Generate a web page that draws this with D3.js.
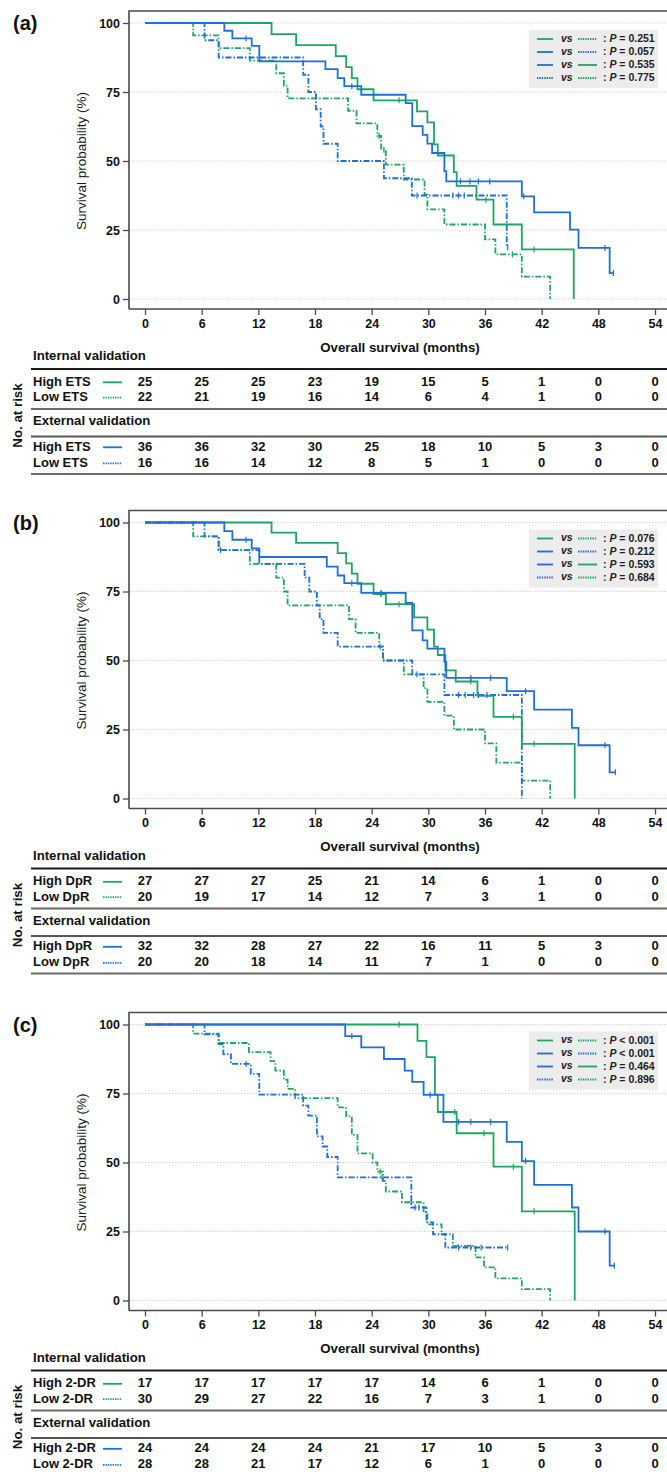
<!DOCTYPE html>
<html>
<head>
<meta charset="utf-8">
<script src="https://cdn.jsdelivr.net/npm/d3@7.9.0/dist/d3.min.js"></script>
<style>
  body { margin: 0; background: #fff; }
  svg { display: block; font-family: "Liberation Sans", Arial, sans-serif; }
</style>
</head>
<body>
<svg id="chart" width="667" height="1472"></svg>
<script>
// === Shared ticks / labels ===
const months = [0, 6, 12, 18, 24, 30, 36, 42, 48, 54];
const yTicks = [0, 25, 50, 75, 100];
const panelLetters = ['(a)', '(b)', '(c)'];
const groupNames = ['ETS', 'DpR', '2-DR'];

// === Panel (a) curves: [month, survival %] ===
const aIntHigh = [[0,100],[13.4,96],[16.0,92],[20.2,88],[21.3,84],[21.9,80],[22.5,76],[24.2,72],[28.8,68],[29.9,64],[30.6,56],[31.0,52],[32.7,46],[33.0,41],[35.1,36],[36.9,27],[39.9,18],[45.4,0]];
const aIntHighCens = [26.9, 36.1, 41.2];
const aIntLow = [[0,100],[5.1,95.5],[7.8,90.9],[11.1,86.4],[13.9,81.8],[14.7,77.3],[15.1,72.7],[21.5,68.2],[22.4,63.6],[24.6,59.1],[25.0,54.1],[25.5,48.7],[27.4,43.3],[29.6,37.8],[29.9,32.5],[31.7,27.0],[36.0,21.6],[37.1,16.2],[39.9,8.1],[42.9,0]];
const aIntLowCens = [24.8, 25.3, 38.9];
const aExtHigh = [[0,100],[8.4,97.2],[9.25,94.4],[11.3,91.7],[12.1,86.1],[19.1,83.3],[20.4,80.0],[21.1,77.1],[22.9,74.0],[27.6,71.0],[28.3,62.6],[29.4,59.5],[29.9,56.3],[30.4,52.9],[31.7,46.3],[31.9,42.6],[39.9,37.2],[41.2,31.4],[45.0,25.1],[45.9,18.5],[49.2,9.4],[49.6,9.4]];
const aExtHighCens = [10.7, 21.9, 33.4, 34.4, 35.3, 36.5, 40.1, 48.7, 49.6];
const aExtLow = [[0,100],[6.3,93.75],[7.8,87.5],[16.75,81.25],[17.3,75],[18.1,68.75],[18.6,62.5],[18.9,56.25],[20.4,50],[25.3,43.75],[28.25,37.5],[38.3,18.75],[38.4,18.75]];
const aExtLowCens = [28.8, 32.6, 33.2, 33.8, 38.4];
const aP = ['= 0.251', '= 0.057', '= 0.535', '= 0.775'];

// === Panel (b) curves ===
const bIntHigh = [[0,100],[13.4,96.3],[16.0,92.6],[20.4,88.9],[21.3,85.2],[21.9,81.5],[22.5,77.8],[24.2,74.1],[25.5,70.4],[28.5,65.6],[29.9,61.2],[30.6,55.0],[31.0,52.0],[31.8,46.4],[32.9,42.4],[35.2,37.2],[36.9,29.6],[39.9,19.8],[45.5,0]];
const bIntHighCens = [25.0, 26.9, 34.5, 39.0, 41.2];
const bIntLow = [[0,100],[5.1,95],[7.8,90],[11.1,85],[13.9,80],[14.7,75],[15.1,70],[21.6,65],[22.3,60],[24.8,55],[25.2,50],[27.4,45],[29.5,40],[29.9,35],[31.7,30],[32.7,25],[36.0,20],[37.2,13],[39.9,6.5],[42.9,0]];
const bIntLowCens = [24.9];
const bExtHigh = [[0,100],[8.4,96.9],[9.25,93.75],[11.3,90.6],[12.1,87.5],[19.25,84.0],[20.4,80.8],[21.1,78.0],[22.9,74.5],[27.6,70.9],[28.3,60.9],[29.4,57.3],[29.9,54.3],[31.7,49.5],[31.9,43.7],[38.3,38.9],[41.2,32.2],[45.2,25.6],[45.9,19.3],[49.2,9.5],[49.8,9.5]];
const bExtHighCens = [10.7, 21.9, 25.0, 34.5, 36.6, 40.3, 48.7, 49.8];
const bExtLow = [[0,100],[6.3,95],[7.8,90],[12.1,85],[16.9,80],[17.4,75],[18.2,70],[18.5,65],[18.9,60],[20.4,55],[25.2,50],[28.3,45],[31.7,37.5],[39.9,0]];
const bExtLowCens = [8.0, 28.8, 33.2, 33.9, 34.8, 35.3, 36.2];
const bP = ['= 0.076', '= 0.212', '= 0.593', '= 0.684'];

// === Panel (c) curves ===
const cIntHigh = [[0,100],[28.85,94.1],[29.8,88.2],[30.7,74.6],[31.0,68.3],[33.0,60.6],[36.9,48.5],[39.9,32.3],[45.5,0]];
const cIntHighCens = [26.9, 32.8, 35.9, 39.0, 41.2];
const cIntLow = [[0,100],[5.1,96.7],[7.8,93.3],[11.0,90.0],[13.3,86.7],[13.8,83.3],[14.7,80.0],[15.1,76.7],[15.9,73.3],[20.4,70.0],[21.3,66.7],[21.9,60.0],[22.5,53.3],[24.1,50.0],[24.6,46.7],[25.2,43.3],[25.5,39.5],[27.2,35.6],[29.5,31.9],[29.9,27.6],[31.4,24.0],[32.6,19.8],[35.0,15.6],[35.9,12.0],[37.1,8.0],[39.9,4.1],[42.9,0]];
const cIntLowCens = [24.9, 28.2];
const cExtHigh = [[0,100],[21.2,95.8],[22.9,91.7],[25.3,87.5],[27.5,83.3],[28.3,79.2],[29.5,74.5],[31.6,64.7],[38.3,57.5],[39.9,50.5],[41.2,41.9],[45.2,33.7],[45.9,25.0],[49.2,12.6],[49.7,12.6]];
const cExtHighCens = [21.9, 30.2, 33.2, 34.5, 36.6, 40.3, 48.7, 49.7];
const cExtLow = [[0,100],[6.3,96.4],[7.8,92.9],[8.3,89.3],[9.1,85.7],[11.2,82.1],[12.1,74.6],[16.75,70.6],[17.3,67],[18.2,59.5],[18.8,55.8],[19.3,52],[20.4,44.6],[28.2,33.7],[29.8,28.3],[30.5,24.0],[31.8,19.2],[38.4,19.2]];
const cExtLowCens = [10.7, 25.1, 28.6, 29.0, 33.2, 34.5, 35.6, 38.4];
const cP = ['< 0.001', '< 0.001', '= 0.464', '= 0.896'];

// === Numbers at risk ===
const aIntHighRisk = [25, 25, 25, 23, 19, 15, 5, 1, 0, 0];
const aIntLowRisk  = [22, 21, 19, 16, 14, 6, 4, 1, 0, 0];
const aExtHighRisk = [36, 36, 32, 30, 25, 18, 10, 5, 3, 0];
const aExtLowRisk  = [16, 16, 14, 12, 8, 5, 1, 0, 0, 0];
const bIntHighRisk = [27, 27, 27, 25, 21, 14, 6, 1, 0, 0];
const bIntLowRisk  = [20, 19, 17, 14, 12, 7, 3, 1, 0, 0];
const bExtHighRisk = [32, 32, 28, 27, 22, 16, 11, 5, 3, 0];
const bExtLowRisk  = [20, 20, 18, 14, 11, 7, 1, 0, 0, 0];
const cIntHighRisk = [17, 17, 17, 17, 17, 14, 6, 1, 0, 0];
const cIntLowRisk  = [30, 29, 27, 22, 16, 7, 3, 1, 0, 0];
const cExtHighRisk = [24, 24, 24, 24, 21, 17, 10, 5, 3, 0];
const cExtLowRisk  = [28, 28, 21, 17, 12, 6, 1, 0, 0, 0];

// === Styles ===
const GREEN = '#1ea561';
const BLUE = '#1f6fd8';
const AXIS = '#4a4a4a';
const DASHDOT = '6,2,1.5,2';
const DOTTED = '1.4,1';

const panels = [
  { curves: [aIntHigh, aIntLow, aExtHigh, aExtLow], cens: [aIntHighCens, aIntLowCens, aExtHighCens, aExtLowCens], p: aP,
    risk: [aIntHighRisk, aIntLowRisk, aExtHighRisk, aExtLowRisk] },
  { curves: [bIntHigh, bIntLow, bExtHigh, bExtLow], cens: [bIntHighCens, bIntLowCens, bExtHighCens, bExtLowCens], p: bP,
    risk: [bIntHighRisk, bIntLowRisk, bExtHighRisk, bExtLowRisk] },
  { curves: [cIntHigh, cIntLow, cExtHigh, cExtLow], cens: [cIntHighCens, cIntLowCens, cExtHighCens, cExtLowCens], p: cP,
    risk: [cIntHighRisk, cIntLowRisk, cExtHighRisk, cExtLowRisk] }
];

// curve index -> colour / low flag
const curveStyle = [
  { color: GREEN, low: false },
  { color: GREEN, low: true },
  { color: BLUE, low: false },
  { color: BLUE, low: true }
];
// legend comparisons (curve indices)
const legendPairs = [[0, 1], [2, 3], [2, 0], [3, 1]];

const offsets = [0, 499.5, 1001.5];
const svg = d3.select('#chart');
const x = d3.scaleLinear().domain([0, 54]).range([145, 655]);
const y = d3.scaleLinear().domain([0, 100]).range([299, 23]);

function survAt(curve, t) {
  let s = curve[0][1];
  curve.forEach(([ct, cs]) => { if (ct <= t) s = cs; });
  return s;
}

panels.forEach((p, i) => {
  const g = svg.append('g').attr('transform', `translate(0,${offsets[i]})`);

  // panel letter
  g.append('text').attr('x', 13).attr('y', 30)
    .attr('font-size', 20).attr('font-weight', 'bold').attr('fill', '#111')
    .text(panelLetters[i]);

  // grid
  g.selectAll('line.grid').data(yTicks).join('line').attr('class', 'grid')
    .attr('x1', 130).attr('x2', 667).attr('y1', d => y(d)).attr('y2', d => y(d))
    .attr('stroke', '#c9c9c9').attr('stroke-width', 0.8).attr('stroke-dasharray', '1.5,1.5');

  // frame: left, top, bottom
  g.append('path').attr('d', 'M129,309 V11 H680 M129,309 H680')
    .attr('fill', 'none').attr('stroke', AXIS).attr('stroke-width', 1.6);

  // axes
  const yAxis = g.append('g').attr('transform', 'translate(129,0)')
    .call(d3.axisLeft(y).tickValues(yTicks).tickSize(6).tickPadding(3));
  const xAxis = g.append('g').attr('transform', 'translate(0,309)')
    .call(d3.axisBottom(x).tickValues(months).tickSize(6).tickPadding(4));
  [yAxis, xAxis].forEach(ax => {
    ax.select('.domain').remove();
    ax.selectAll('line').attr('stroke', AXIS).attr('stroke-width', 1.3);
    ax.selectAll('text').attr('font-size', 12.5).attr('font-weight', 'bold')
      .attr('fill', '#111').attr('font-family', '"Liberation Sans", Arial, sans-serif');
  });

  g.append('text').attr('transform', 'translate(82,161) rotate(-90)')
    .attr('text-anchor', 'middle').attr('dominant-baseline', 'middle')
    .attr('font-size', 13.5).attr('fill', '#1a1a1a')
    .text('Survival probability (%)');

  // survival curves
  const line = d3.line().x(d => x(d[0])).y(d => y(d[1])).curve(d3.curveStepAfter);
  [1, 3, 0, 2].forEach(k => {
    const st = curveStyle[k];
    g.append('path').datum(p.curves[k]).attr('d', line)
      .attr('fill', 'none').attr('stroke', st.color).attr('stroke-width', 1.8)
      .attr('stroke-dasharray', st.low ? DASHDOT : null);
    g.selectAll(null).data(p.cens[k]).join('line')
      .attr('x1', d => x(d)).attr('x2', d => x(d))
      .attr('y1', d => y(survAt(p.curves[k], d)) - 3)
      .attr('y2', d => y(survAt(p.curves[k], d)) + 3)
      .attr('stroke', st.color).attr('stroke-width', 1.2);
  });

  // legend
  const lg = g.append('g');
  lg.append('rect').attr('x', 529).attr('y', 30).attr('width', 129).attr('height', 58).attr('fill', '#ececec');
  legendPairs.forEach((pair, r) => {
    const ry = 39 + r * 13;
    const s1 = curveStyle[pair[0]], s2 = curveStyle[pair[1]];
    lg.append('line').attr('x1', 537).attr('x2', 553).attr('y1', ry).attr('y2', ry)
      .attr('stroke', s1.color).attr('stroke-width', 1.8).attr('stroke-dasharray', s1.low ? DOTTED : null);
    lg.append('text').attr('x', 561).attr('y', ry).attr('dominant-baseline', 'middle')
      .attr('font-size', 10.5).attr('font-weight', 'bold').attr('font-style', 'italic').attr('fill', '#222')
      .text('vs');
    lg.append('line').attr('x1', 578).attr('x2', 597).attr('y1', ry).attr('y2', ry)
      .attr('stroke', s2.color).attr('stroke-width', 1.8).attr('stroke-dasharray', s2.low ? DOTTED : null);
    const t = lg.append('text').attr('x', 603).attr('y', ry).attr('dominant-baseline', 'middle')
      .attr('font-size', 10.5).attr('font-weight', 'bold').attr('fill', '#222');
    t.append('tspan').text(': ');
    t.append('tspan').attr('font-style', 'italic').text('P');
    t.append('tspan').text(' ' + p.p[r]);
  });

  // risk table
  const rt = g.append('g').attr('font-weight', 'bold').attr('fill', '#111');
  rt.append('text').attr('x', 400).attr('y', 348).attr('text-anchor', 'middle')
    .attr('dominant-baseline', 'middle').attr('font-size', 13.3).text('Overall survival (months)');
  rt.append('text').attr('x', 33).attr('y', 357).attr('dominant-baseline', 'middle')
    .attr('font-size', 13.2).text('Internal validation');
  rt.append('text').attr('x', 33).attr('y', 422).attr('dominant-baseline', 'middle')
    .attr('font-size', 13.2).text('External validation');
  rt.append('text').attr('transform', 'translate(18.5,415.5) rotate(-90)')
    .attr('text-anchor', 'middle').attr('dominant-baseline', 'middle')
    .attr('font-size', 13.3).text('No. at risk');

  [[369, '#1a1a1a'], [409, '#6a6a6a'], [436.5, '#555'], [474, '#6a6a6a']].forEach(([ly, c]) => {
    rt.append('line').attr('x1', 31).attr('x2', 667).attr('y1', ly).attr('y2', ly)
      .attr('stroke', c).attr('stroke-width', 2);
  });

  const rowY = [382.3, 397.7, 447.3, 463.3];
  p.risk.forEach((vals, k) => {
    const st = curveStyle[k];
    rt.append('text').attr('x', 33).attr('y', rowY[k]).attr('dominant-baseline', 'middle')
      .attr('font-size', 13).text((st.low ? 'Low ' : 'High ') + groupNames[i]);
    rt.append('line').attr('x1', 103).attr('x2', 122).attr('y1', rowY[k]).attr('y2', rowY[k])
      .attr('stroke', st.color).attr('stroke-width', 1.8).attr('stroke-dasharray', st.low ? DOTTED : null);
    rt.selectAll(null).data(vals).join('text')
      .attr('x', (d, j) => x(months[j])).attr('y', rowY[k])
      .attr('text-anchor', 'middle').attr('dominant-baseline', 'middle')
      .attr('font-size', 13).text(d => d);
  });
});
</script>
</body>
</html>
